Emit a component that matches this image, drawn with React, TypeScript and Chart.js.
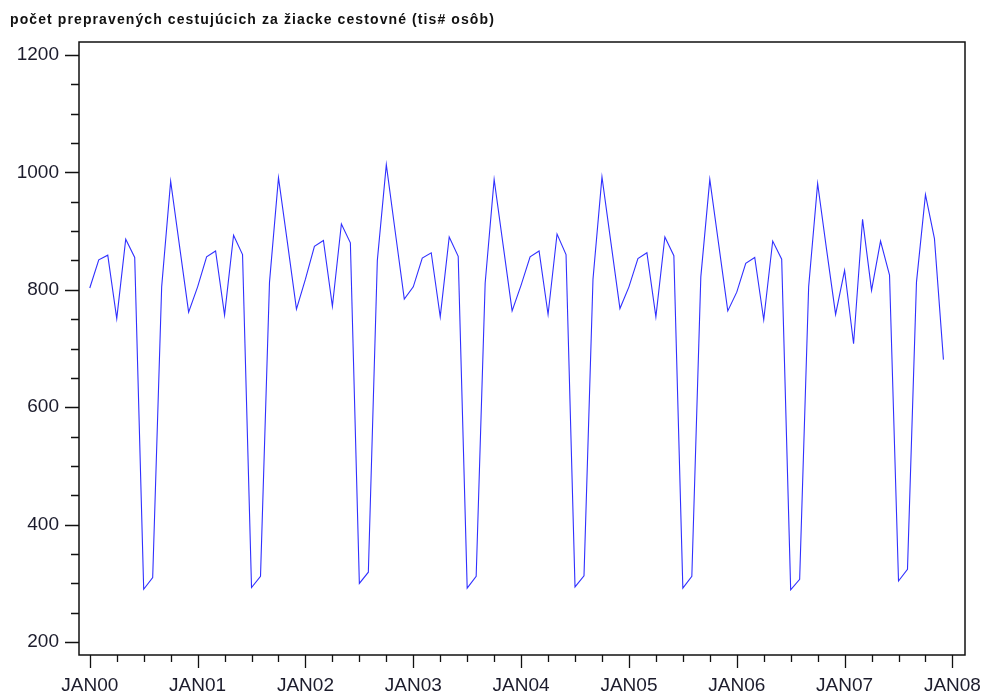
import React, { useEffect, useRef } from "react";
import { Chart, registerables } from "chart.js";

Chart.register(...registerables);

const TITLE = "počet prepravených cestujúcich za žiacke cestovné (tis# osôb)";

const yearLabels = ["JAN00", "JAN01", "JAN02", "JAN03", "JAN04", "JAN05", "JAN06", "JAN07", "JAN08"];

const y2000 = [803, 851, 859, 751, 886, 855, 290, 310, 805, 985, 873, 762];
const y2001 = [805, 856, 866, 757, 893, 860, 293, 312, 813, 991, 880, 767];
const y2002 = [818, 874, 884, 772, 912, 880, 300, 319, 850, 1013, 898, 784];
const y2003 = [805, 854, 863, 754, 890, 857, 292, 312, 811, 988, 876, 764];
const y2004 = [808, 856, 866, 758, 895, 860, 294, 313, 818, 992, 880, 768];
const y2005 = [805, 853, 863, 754, 890, 858, 292, 312, 822, 988, 876, 764];
const y2006 = [796, 845, 855, 749, 883, 852, 289, 307, 805, 981, 868, 758];
const y2007 = [833, 708, 920, 799, 883, 825, 304, 324, 813, 962, 887, 681];

const yMajorTicks = [200, 400, 600, 800, 1000, 1200];
const yMinorStep = 50;
const xMinorStep = 3; // quarterly ticks, in months

const FONT = '"Liberation Sans", Arial, sans-serif';
const TEXT_COLOR = "#1c1c2c";

const allValues = [y2000, y2001, y2002, y2003, y2004, y2005, y2006, y2007].flat();

export default function App() {
  const ref = useRef<HTMLCanvasElement | null>(null);

  useEffect(() => {
    const canvas = ref.current;
    if (!canvas) return;

    const points = allValues.map((v, i) => ({ x: i, y: v }));
    const lastMonth = (yearLabels.length - 1) * 12;
    const xTickValues: number[] = [];
    for (let m = 0; m <= lastMonth; m += xMinorStep) xTickValues.push(m);
    const yTickValues: number[] = [];
    for (let v = yMajorTicks[0]; v <= yMajorTicks[yMajorTicks.length - 1]; v += yMinorStep) yTickValues.push(v);

    const framePlugin = {
      id: "frameTicks",
      afterDraw(chart: any) {
        const { ctx, chartArea } = chart;
        const xs = chart.scales.x;
        const ys = chart.scales.y;
        ctx.save();
        ctx.strokeStyle = "#111";
        ctx.lineWidth = 1.5;
        ctx.strokeRect(chartArea.left, chartArea.top, chartArea.right - chartArea.left, chartArea.bottom - chartArea.top);
        ctx.lineWidth = 1.3;
        ctx.beginPath();
        for (const t of xs.ticks) {
          const px = Math.round(xs.getPixelForValue(t.value)) + 0.5;
          const len = t.value % 12 === 0 ? 13 : 7;
          ctx.moveTo(px, chartArea.bottom);
          ctx.lineTo(px, chartArea.bottom + len);
        }
        for (const t of ys.ticks) {
          const py = Math.round(ys.getPixelForValue(t.value)) + 0.5;
          const len = yMajorTicks.includes(t.value) ? 14 : 8;
          ctx.moveTo(chartArea.left, py);
          ctx.lineTo(chartArea.left - len, py);
        }
        ctx.stroke();
        ctx.fillStyle = "#111";
        ctx.font = `bold 14px ${FONT}`;
        (ctx as any).letterSpacing = "1.1px";
        ctx.textBaseline = "alphabetic";
        ctx.textAlign = "left";
        ctx.fillText(TITLE, 10, 24);
        ctx.restore();
      },
    };

    const chart = new Chart(canvas, {
      type: "line",
      data: {
        datasets: [
          {
            data: points,
            borderColor: "#3030ff",
            borderWidth: 1.1,
            pointRadius: 0,
            tension: 0,
            fill: false,
          },
        ],
      },
      options: {
        animation: false,
        responsive: false,
        maintainAspectRatio: false,
        layout: { padding: { left: 0, right: 19, top: 42, bottom: 0 } },
        plugins: { legend: { display: false }, tooltip: { enabled: false }, title: { display: false } },
        scales: {
          x: {
            type: "linear",
            min: -1.2,
            max: lastMonth + 1.4,
            afterBuildTicks: (scale: any) => {
              scale.ticks = xTickValues.map((v) => ({ value: v }));
            },
            afterFit: (scale: any) => {
              scale.height = 40;
              scale.paddingLeft = 0;
              scale.paddingRight = 0;
            },
            grid: { display: false, drawTicks: false },
            border: { display: false },
            ticks: {
              autoSkip: false,
              maxRotation: 0,
              padding: 19,
              color: TEXT_COLOR,
              font: { family: FONT, size: 19 },
              callback: (value: any) => (Number(value) % 12 === 0 ? yearLabels[Number(value) / 12] : ""),
            },
          },
          y: {
            type: "linear",
            min: 178,
            max: 1222,
            afterBuildTicks: (scale: any) => {
              scale.ticks = yTickValues.map((v) => ({ value: v }));
            },
            afterFit: (scale: any) => {
              scale.width = 79;
              scale.paddingTop = 0;
              scale.paddingBottom = 0;
            },
            grid: { display: false, drawTicks: false },
            border: { display: false },
            ticks: {
              autoSkip: false,
              padding: 20,
              color: TEXT_COLOR,
              font: { family: FONT, size: 19 },
              callback: (value: any) => (yMajorTicks.includes(Number(value)) ? String(value) : ""),
            },
          },
        },
      },
      plugins: [framePlugin],
    });

    return () => chart.destroy();
  }, []);

  return (
    <div style={{ position: "fixed", left: 0, top: 0, width: 984, height: 695, background: "#fff" }}>
      <canvas ref={ref} width={984} height={695} style={{ width: 984, height: 695, display: "block" }} />
    </div>
  );
}
